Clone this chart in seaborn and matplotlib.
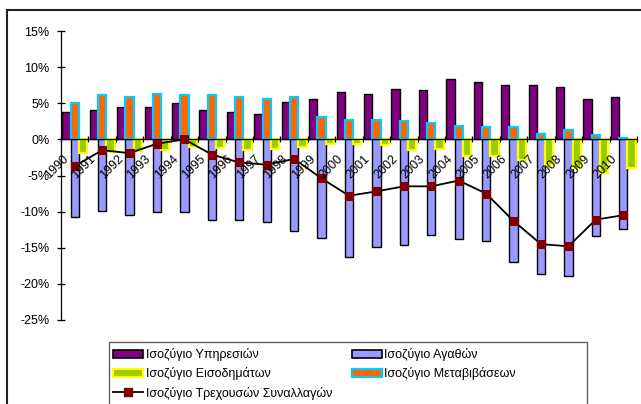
import numpy as np
import pandas as pd
import matplotlib
matplotlib.use("Agg")
import matplotlib.pyplot as plt
import seaborn as sns
from matplotlib.patches import Patch, Rectangle
from matplotlib.lines import Line2D
from matplotlib.transforms import ScaledTranslation

# ---------------- data (% of GDP) ----------------
years = [str(y) for y in range(1990, 2011)]
services = [3.8, 4.1, 4.5, 4.5, 5.0, 4.1, 3.8, 3.5, 5.2, 5.6, 6.5, 6.3, 7.0, 6.8, 8.4, 8.0, 7.5, 7.5, 7.3, 5.6, 5.8]
goods = [-10.8, -9.9, -10.5, -10.1, -10.1, -11.1, -11.2, -11.5, -12.7, -13.6, -16.3, -14.9, -14.6, -13.2, -13.8, -14.1, -17.0, -18.6, -18.9, -13.4, -12.4]
income = [-1.9, -1.7, -1.6, -1.5, -1.0, -1.2, -1.5, -1.4, -1.1, -0.6, -0.6, -0.8, -1.5, -1.4, -2.3, -2.3, -2.9, -3.6, -4.0, -4.6, -3.9]
transfers = [5.0, 6.2, 5.9, 6.3, 6.2, 6.2, 5.8, 5.6, 5.8, 3.1, 2.7, 2.7, 2.5, 2.2, 1.9, 1.7, 1.7, 0.7, 1.3, 0.6, 0.2]
current = [-3.7, -1.5, -1.9, -0.6, 0.0, -2.1, -3.2, -3.5, -2.7, -5.4, -7.8, -7.2, -6.5, -6.5, -5.7, -7.5, -11.3, -14.5, -14.8, -11.1, -10.5]

lab_services = "Ισοζύγιο Υπηρεσιών"
lab_goods = "Ισοζύγιο Αγαθών"
lab_income = "Ισοζύγιο Εισοδημάτων"
lab_transfers = "Ισοζύγιο Μεταβιβάσεων"
lab_current = "Ισοζύγιο Τρεχουσών Συναλλαγών"

y_ticks = [-25, -20, -15, -10, -5, 0, 5, 10, 15]
y_tick_labels = ["-25%", "-20%", "-15%", "-10%", "-5%", "0%", "5%", "10%", "15%"]

# ---------------- style ----------------
plt.rcParams["font.family"] = ["Liberation Sans", "DejaVu Sans"]
plt.rcParams["font.size"] = 9

c_services = "#800080"
c_goods = "#9999FF"
c_income = "#99CC00"
c_income_edge = "#FFFF00"
c_transfers = "#FF6600"
c_transfers_edge = "#00CCFF"
c_marker = "#800000"

W, H = 641, 404
fig = plt.figure(figsize=(W / 100, H / 100), dpi=100)
ax = fig.add_axes([61 / W, 1 - 320 / H, 576 / W, 289 / H])

df = pd.DataFrame({"year": years, lab_services: services, lab_goods: goods, lab_income: income})
long = df.melt(id_vars="year", var_name="series", value_name="value")

sns.barplot(data=long, x="year", y="value", hue="series",
            hue_order=[lab_services, lab_goods, lab_income],
            palette=[c_services, c_goods, c_income], saturation=1,
            width=0.91, errorbar=None, legend=False, ax=ax, zorder=2)

edge_specs = [("black", 1.0), ("black", 1.0), (c_income_edge, 1.6)]
for cont, (ec, lw) in zip(ax.containers, edge_specs):
    for bar in cont:
        bar.set_edgecolor(ec)
        bar.set_linewidth(lw)

sns.barplot(x=years, y=transfers, color=c_transfers, saturation=1, width=0.30,
            errorbar=None, edgecolor=c_transfers_edge, linewidth=1.6, ax=ax, zorder=2)

xpos = np.arange(len(years))
sns.lineplot(x=xpos, y=current, color="black", linewidth=1.3, marker="s",
             markersize=6, markerfacecolor=c_marker, markeredgecolor=c_marker,
             ax=ax, zorder=4, legend=False)

# ---------------- axes ----------------
ax.set_xlim(-0.5, len(years) - 0.5)
ax.set_ylim(-25, 15)
ax.set_xlabel("")
ax.set_ylabel("")
for s in ["top", "right"]:
    ax.spines[s].set_visible(False)
ax.spines["bottom"].set_position(("data", 0))
ax.spines["bottom"].set_zorder(3)
ax.spines["left"].set_linewidth(0.9)
ax.spines["bottom"].set_linewidth(0.9)
ax.xaxis.set_zorder(5)

ax.set_yticks(y_ticks)
ax.set_yticklabels(y_tick_labels)
ax.tick_params(axis="y", direction="inout", length=5.5, width=0.9, pad=5.6, labelsize=9)

ax.set_xticks(xpos)
ax.set_xticklabels(years)
ax.set_xticks(np.arange(-0.5, len(years), 1.0), minor=True)
ax.tick_params(axis="x", which="major", length=0, pad=0, labelsize=9)
ax.tick_params(axis="x", which="minor", direction="inout", length=5, width=0.9)
offset = ScaledTranslation(-18 / 100, -28 / 100, fig.dpi_scale_trans)
for lbl in ax.get_xticklabels():
    lbl.set_rotation(45)
    lbl.set_rotation_mode("anchor")
    lbl.set_ha("center")
    lbl.set_va("center")
    lbl.set_transform(lbl.get_transform() + offset)

# ---------------- legend ----------------
handles = [
    Patch(facecolor=c_services, edgecolor="black", linewidth=1.2),
    Patch(facecolor=c_income, edgecolor=c_income_edge, linewidth=1.6),
    Line2D([0], [0], color="black", linewidth=1.3, marker="s", markersize=6,
           markerfacecolor=c_marker, markeredgecolor=c_marker),
    Patch(facecolor=c_goods, edgecolor="black", linewidth=1.2),
    Patch(facecolor=c_transfers, edgecolor=c_transfers_edge, linewidth=1.6),
]
labels = [lab_services, lab_income, lab_current, lab_goods, lab_transfers]
fig.legend(handles, labels, loc="upper left", bbox_to_anchor=(113 / W, 1 - 348 / H),
           ncol=2, frameon=False, borderpad=0, handlelength=2.4, handleheight=0.6,
           handletextpad=0.2, columnspacing=1.6, labelspacing=0.5, fontsize=9,
           borderaxespad=0)

fig.add_artist(Rectangle((109 / W, -0.05), (587 - 109) / W, (404 - 341.7) / H + 0.05,
                         transform=fig.transFigure, fill=False, edgecolor="#606060",
                         linewidth=1.0))
fig.add_artist(Rectangle((7 / W, -0.1), 1.2, 1 - 10 / H + 0.1,
                         transform=fig.transFigure, fill=False, edgecolor="#222222",
                         linewidth=1.5))

fig.savefig("out.png", dpi=100)
